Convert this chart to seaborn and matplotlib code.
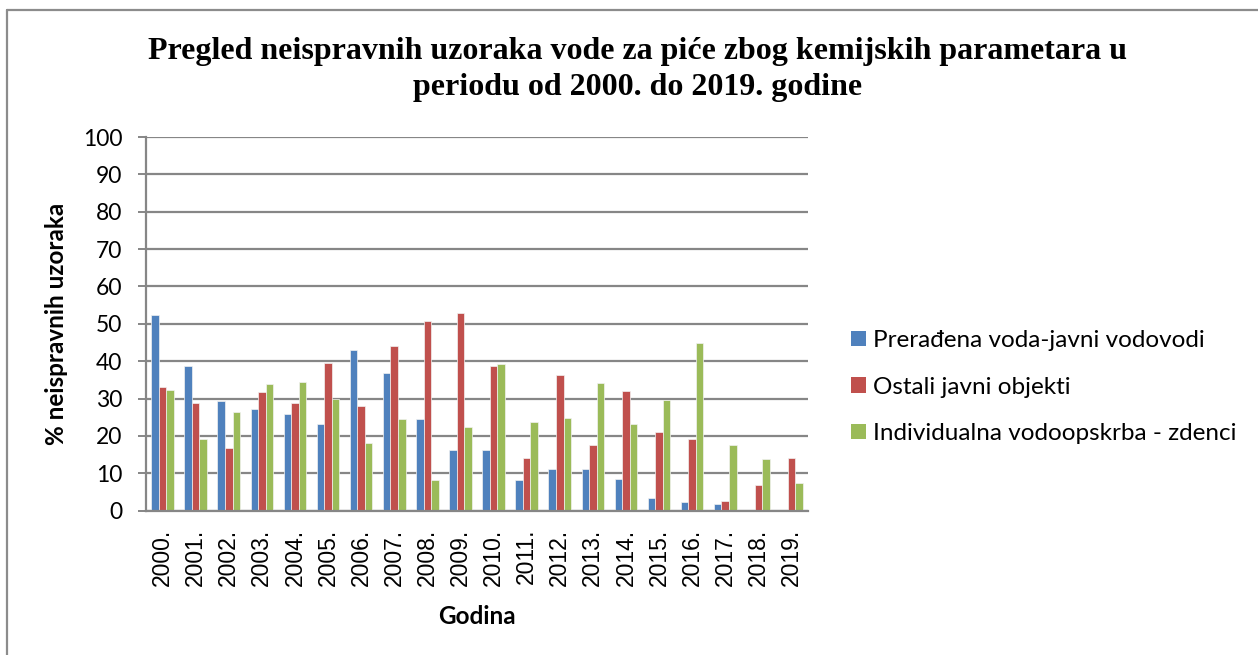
import matplotlib
matplotlib.use("Agg")
import matplotlib.pyplot as plt
import matplotlib.lines as mlines
import seaborn as sns
import pandas as pd

years = [f"{y}." for y in range(2000, 2020)]
series_names = [
    "Prerađena voda-javni vodovodi",
    "Ostali javni objekti",
    "Individualna vodoopskrba - zdenci",
]
javni_vodovodi = [52.5, 38.7, 29.4, 27.2, 26.0, 23.1, 43.0, 36.8, 24.6, 16.2,
                  16.3, 8.2, 11.2, 11.2, 8.4, 3.5, 2.3, 1.8, 0.0, 0.2]
ostali_objekti = [33.2, 28.8, 16.7, 31.7, 28.7, 39.6, 28.0, 44.0, 50.7, 52.8,
                  38.6, 14.2, 36.3, 17.6, 31.9, 21.1, 19.3, 2.6, 7.0, 14.2]
zdenci = [32.4, 19.1, 26.5, 33.8, 34.4, 29.8, 18.1, 24.5, 8.2, 22.3,
          39.2, 23.8, 24.9, 34.1, 23.2, 29.7, 44.8, 17.7, 13.8, 7.3]
colors = ["#4F81BD", "#C0504D", "#9BBB59"]
title_lines = ["Pregled neispravnih uzoraka vode za piće zbog kemijskih parametara u",
               "periodu od 2000. do 2019. godine"]

rows = []
for name, vals in zip(series_names, [javni_vodovodi, ostali_objekti, zdenci]):
    for yr, v in zip(years, vals):
        rows.append({"Godina": yr, "Vrijednost": v, "Serija": name})
df = pd.DataFrame(rows)

sns.set_theme(style="white")
ui_font = ["Lato", "DejaVu Sans"]
plt.rcParams["font.family"] = ui_font
plt.rcParams["text.color"] = "black"
plt.rcParams["xtick.color"] = "black"
plt.rcParams["ytick.color"] = "black"

W, H = 1258, 655
fig = plt.figure(figsize=(W / 100, H / 100), dpi=100)
ax = fig.add_axes([146 / W, 1 - 510.7 / H, (808 - 146) / W, (510.7 - 137) / H])

sns.barplot(data=df, x="Godina", y="Vrijednost", hue="Serija",
            hue_order=series_names, palette=colors, saturation=1,
            width=0.68, ax=ax, legend=False, linewidth=0.5, edgecolor="#f2f2f2")

grid_c = "#868686"
ax.set_ylim(0, 100)
ax.set_yticks(range(0, 101, 10))
ax.set_xlim(-0.5, len(years) - 0.5)
ax.yaxis.grid(True, color=grid_c, linewidth=1.6)
ax.set_axisbelow(True)
for s in ["top", "right"]:
    ax.spines[s].set_visible(False)
for s in ["left", "bottom"]:
    ax.spines[s].set_color(grid_c)
    ax.spines[s].set_linewidth(1.6)

ax.tick_params(axis="y", direction="out", length=6, width=1.4, color=grid_c,
               labelcolor="black", pad=11, labelsize=16.5, left=True)
ax.tick_params(axis="x", length=0, pad=13, labelcolor="black")
for lbl in ax.get_xticklabels():
    lbl.set_rotation(90)
    lbl.set_fontfamily(["Liberation Sans", "DejaVu Sans"])
    lbl.set_fontsize(16.5)
    lbl.set_va("top")

ax.set_xlabel("")
ax.set_ylabel("")
fig.text(477 / W, 1 - 617 / H, "Godina", ha="center", va="center",
         fontsize=17.5, fontweight="bold", color="black")
fig.text(57 / W, 1 - 324 / H, "% neispravnih uzoraka", ha="center", va="center",
         rotation=90, fontsize=17.5, fontweight="bold", color="black")

for line, yc in zip(title_lines, [52, 87]):
    fig.text(637.5 / W, 1 - yc / H, line, ha="center", va="center",
             fontsize=23, fontweight="bold", color="black",
             family=["Liberation Serif", "DejaVu Serif"])

handles = [plt.Rectangle((0, 0), 1, 1, facecolor=c, edgecolor="none") for c in colors]
leg = fig.legend(handles, series_names, loc="center left",
                 bbox_to_anchor=(851 / W, 1 - 387 / H), frameon=False,
                 fontsize=17.5, handlelength=0.62, handleheight=0.62,
                 handletextpad=0.3, labelspacing=1.05, borderaxespad=0,
                 borderpad=0, labelcolor="black")

# outer chart frame
fig.add_artist(mlines.Line2D([7 / W, 7 / W], [0, 1 - 10 / H], color="#8c8c8c",
                             linewidth=1.6, transform=fig.transFigure))
fig.add_artist(mlines.Line2D([7 / W, 1], [1 - 10 / H, 1 - 10 / H], color="#8c8c8c",
                             linewidth=1.6, transform=fig.transFigure))

fig.savefig("out.png", dpi=100, facecolor="white")
